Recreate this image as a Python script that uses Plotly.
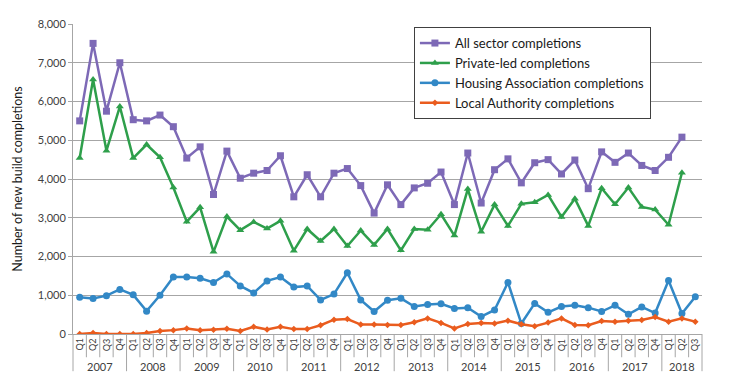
import plotly.graph_objects as go

years = ["2007", "2008", "2009", "2010", "2011", "2012", "2013", "2014", "2015", "2016", "2017", "2018"]
quarters_per_year = [4, 4, 4, 4, 4, 4, 4, 4, 4, 4, 4, 3]
quarter_names = ["Q1", "Q2", "Q3", "Q4"]

all_sector = [5500, 7500, 5750, 7000, 5530, 5500, 5650, 5350,
              4540, 4830, 3600, 4720, 4020, 4150, 4220, 4600,
              3540, 4110, 3540, 4150, 4270, 3830, 3120, 3850,
              3340, 3770, 3890, 4180, 3340, 4670, 3380, 4240,
              4520, 3900, 4420, 4500, 4130, 4490, 3750, 4700,
              4430, 4670, 4350, 4220, 4560, 5080, None]
private_led = [4540, 6570, 4730, 5870, 4540, 4890, 4560, 3780,
               2900, 3270, 2120, 3030, 2680, 2890, 2720, 2920,
               2150, 2710, 2400, 2710, 2270, 2670, 2300, 2710,
               2160, 2710, 2690, 3090, 2540, 3740, 2640, 3340,
               2790, 3360, 3400, 3590, 3020, 3490, 2790, 3760,
               3350, 3780, 3280, 3210, 2820, 4160, None]
housing_assoc = [950, 916, 990, 1150, 1010, 590, 1000, 1470,
                 1470, 1440, 1330, 1550, 1240, 1060, 1370, 1470,
                 1210, 1240, 880, 1030, 1580, 880, 580, 870,
                 920, 710, 760, 780, 660, 680, 450, 620,
                 1330, 270, 790, 560, 710, 740, 680, 580,
                 740, 510, 700, 540, 1380, 530, 960]
local_auth = [0, 25, 0, 0, 0, 25, 76, 100,
              143, 100, 110, 134, 76, 185, 118, 185,
              126, 126, 227, 370, 387, 244, 244, 235,
              235, 303, 403, 286, 143, 261, 286, 269,
              345, 252, 202, 294, 403, 235, 227, 336,
              319, 345, 361, 437, 319, 403, 319]

y_ticks = [0, 1000, 2000, 3000, 4000, 5000, 6000, 7000, 8000]

labels_q = []
year_of = []
for y, n in zip(years, quarters_per_year):
    for q in range(n):
        labels_q.append(quarter_names[q])
        year_of.append(y)
idx = list(range(len(labels_q)))
N = len(idx)

FONT = "Lato"
TXT = "#404040"
GRID = "#A6A6A6"

fig = go.Figure()
fig.add_trace(go.Scatter(x=idx, y=all_sector, name="All sector completions", mode="lines+markers",
                         line=dict(color="#7D69B6", width=2.5),
                         marker=dict(symbol="square", size=7, color="#7D69B6")))
fig.add_trace(go.Scatter(x=idx, y=private_led, name="Private-led completions", mode="lines+markers",
                         line=dict(color="#2E9F4B", width=2.5),
                         marker=dict(symbol="triangle-up", size=7, color="#2E9F4B")))
fig.add_trace(go.Scatter(x=idx, y=housing_assoc, name="Housing Association completions", mode="lines+markers",
                         line=dict(color="#3288C6", width=2.5),
                         marker=dict(symbol="circle", size=7, color="#3288C6")))
fig.add_trace(go.Scatter(x=idx, y=local_auth, name="Local Authority completions", mode="lines+markers",
                         line=dict(color="#EA5C1E", width=2.5),
                         marker=dict(symbol="diamond", size=5, color="#EA5C1E")))

annotations = []
shapes = []
for i, q in zip(idx, labels_q):
    annotations.append(dict(x=i, y=-0.035, xref="x", yref="paper", text=q, showarrow=False,
                            textangle=-90, font=dict(family=FONT, size=9, color=TXT),
                            xanchor="center", yanchor="middle"))
start = 0
year_bounds = [-0.5]
for y, n in zip(years, quarters_per_year):
    center = start + (n - 1) / 2
    annotations.append(dict(x=center, y=-0.105, xref="x", yref="paper", text=y, showarrow=False,
                            font=dict(family=FONT, size=11, color=TXT),
                            xanchor="center", yanchor="middle"))
    start += n
    year_bounds.append(start - 0.5)

def to_paper(xv):
    return (xv + 0.5) / N

for b in range(N + 1):
    xv = b - 0.5
    long = xv in year_bounds
    shapes.append(dict(type="line", xref="paper", yref="paper",
                       x0=to_paper(xv), x1=to_paper(xv), y0=0, y1=(-0.12 if long else -0.075),
                       line=dict(color=GRID, width=1)))

fig.update_layout(
    width=739, height=392,
    margin=dict(l=65, r=45, t=9, b=66),
    paper_bgcolor="white", plot_bgcolor="white",
    font=dict(family=FONT, color=TXT),
    showlegend=True,
    legend=dict(x=0.542, y=0.99, xanchor="left", yanchor="top",
                bgcolor="white", bordercolor="#404040", borderwidth=1,
                font=dict(family=FONT, size=13, color="#1a1a1a"),
                tracegroupgap=0, itemwidth=30),
    xaxis=dict(range=[-0.5, N - 0.5], showticklabels=False, showgrid=False, zeroline=False,
               showline=True, linecolor=GRID, linewidth=1, ticks=""),
    yaxis=dict(range=[0, 8000], tickvals=y_ticks, tickformat=",d", showgrid=True, gridcolor=GRID,
               gridwidth=1, zeroline=False, showline=True, linecolor=GRID, linewidth=1,
               ticks="outside", ticklen=4, tickcolor=GRID,
               tickfont=dict(family=FONT, size=11, color=TXT),
               title=dict(text="Number of new build completions", standoff=12,
                          font=dict(family=FONT, size=12.5, color="#1a1a1a"))),
    annotations=annotations,
    shapes=shapes,
)

fig.write_html("out.html")
